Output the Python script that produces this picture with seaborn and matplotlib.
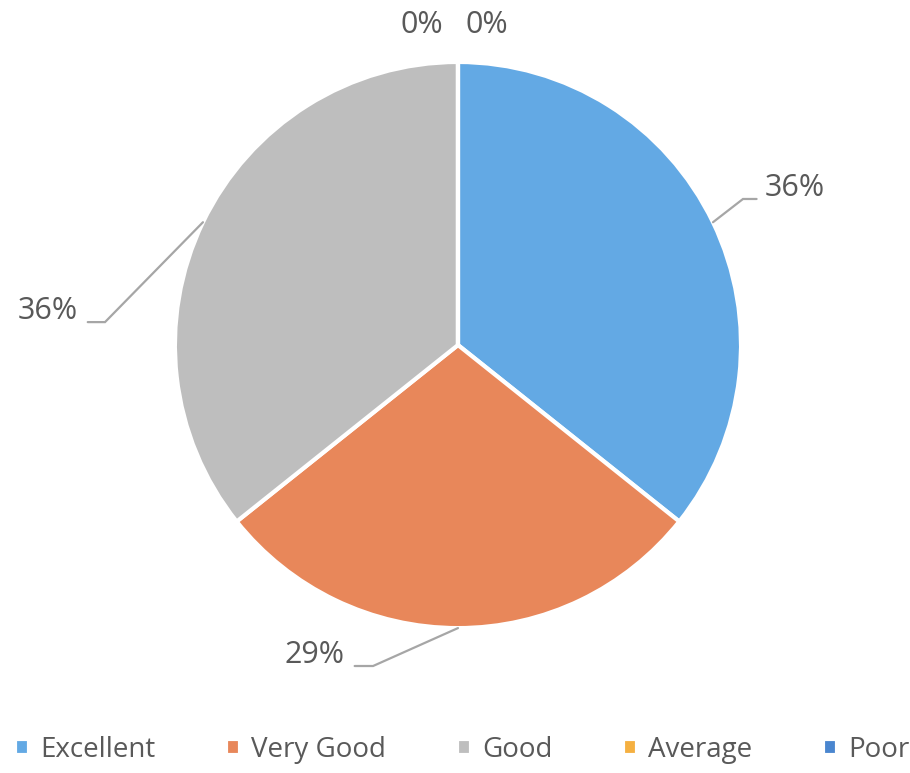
import numpy as np
import matplotlib
matplotlib.use("Agg")
import matplotlib.pyplot as plt
import seaborn as sns

# datos de la encuesta
categorias = ["Excellent", "Very Good", "Good", "Average", "Poor"]
respuestas = [5, 4, 5, 0, 0]
etiquetas = ["36%", "29%", "36%", "0%", "0%"]
colores = ["#63A9E4", "#E8875A", "#BEBEBE", "#F5B041", "#4A86CF"]

sns.set_theme(style="white")
plt.rcParams['font.family'] = ['Open Sans', 'DejaVu Sans']

fig = plt.figure(figsize=(9.1, 7.73), dpi=100)
ax = fig.add_axes([0, 0, 1, 1])

wedges, _ = ax.pie(respuestas, colors=colores, startangle=90, counterclock=False,
                   wedgeprops=dict(edgecolor="white", linewidth=3))
ax.set_xlim(-1.618, 1.597)
ax.set_ylim(-1.512, 1.219)
ax.axis("off")

# codo de la linea guia y borde del texto (relativos al radio)
codos = [(1.007, 0.516), (-0.30, -1.134), (-1.247, 0.081), None, None]
borde_texto = [1.085, -0.40, -1.343, -0.127, 0.102]
gris = "#595959"
for w, txt, c, bx in zip(wedges, etiquetas, codos, borde_texto):
    ang = np.deg2rad((w.theta1 + w.theta2) / 2)
    borde = (np.cos(ang), np.sin(ang))
    if c is not None:
        ha = "left" if bx > c[0] else "right"
        fin = bx - 0.03 if ha == "left" else bx + 0.035
        ax.plot([borde[0], c[0], fin], [borde[1], c[1], c[1]], color="#A6A6A6", lw=1.6,
                solid_joinstyle="miter")
        ax.text(bx, c[1] + 0.01, txt, ha=ha, va="baseline", fontsize=22, color=gris)
    else:
        ax.text(bx, 1.13, txt, ha="center", va="center", fontsize=22, color=gris)

fig.legend(wedges, categorias, loc="center", bbox_to_anchor=(0.508, 0.03), ncol=5,
           frameon=False, fontsize=20, labelcolor=gris, handlelength=0.5, handleheight=0.5,
           handletextpad=0.4, columnspacing=2.55)

fig.savefig("out.png", dpi=100)
